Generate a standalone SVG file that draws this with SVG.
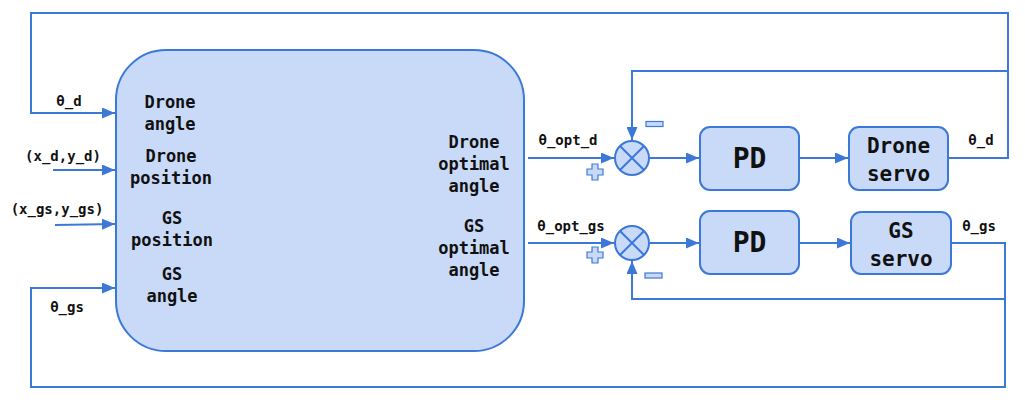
<svg xmlns="http://www.w3.org/2000/svg" width="1025" height="403" viewBox="0 0 1025 403">
<style>
.ln{fill:none;stroke:#3c78d8;stroke-width:2}
.box{fill:#c9daf8;stroke:#3c78d8;stroke-width:2}
.sym{fill:#c9daf8;stroke:#3c78d8;stroke-width:1.2}
text{font-family:"DejaVu Sans Mono","Liberation Mono",monospace;font-weight:bold;fill:#111}
.lbl{font-size:14px}
.in{font-size:17px;text-anchor:middle}
.sv{font-size:21px;text-anchor:middle}
.pd{font-size:28px;text-anchor:middle}
</style>
<defs>
<marker id="ah" markerUnits="userSpaceOnUse" markerWidth="13" markerHeight="11" refX="13" refY="5.5" orient="auto">
<path d="M0,0 L13,5.5 L0,11 z" fill="#3c78d8"/>
</marker>
</defs>
<rect width="1025" height="403" fill="#fff"/>
<g id="connectors">
<path class="ln" d="M948,158 H1008 V13 H31 V113 H115" marker-end="url(#ah)"/>
<path class="ln" d="M1008,71 H632 V140" marker-end="url(#ah)"/>
<path class="ln" d="M951,243 H1005 V387 H31 V288 H115" marker-end="url(#ah)"/>
<path class="ln" d="M1005,299 H632 V261" marker-end="url(#ah)"/>
<path class="ln" d="M53,170 H115" marker-end="url(#ah)"/>
<path class="ln" d="M55,225 L115,224" marker-end="url(#ah)"/>
<path class="ln" d="M528,158 H614" marker-end="url(#ah)"/>
<path class="ln" d="M528,243 H614" marker-end="url(#ah)"/>
<path class="ln" d="M650,158 H699" marker-end="url(#ah)"/>
<path class="ln" d="M650,243 H699" marker-end="url(#ah)"/>
<path class="ln" d="M799,158 H848" marker-end="url(#ah)"/>
<path class="ln" d="M799,243 H850" marker-end="url(#ah)"/>
<text class="lbl" x="69" y="106" text-anchor="middle">θ_d</text>
<text class="lbl" x="63" y="161" text-anchor="middle">(x_d,y_d)</text>
<text class="lbl" x="57" y="214" text-anchor="middle">(x_gs,y_gs)</text>
<text class="lbl" x="67" y="312" text-anchor="middle">θ_gs</text>
<text class="lbl" x="568" y="145" text-anchor="middle">θ_opt_d</text>
<text class="lbl" x="571" y="231" text-anchor="middle">θ_opt_gs</text>
<text class="lbl" x="981" y="145" text-anchor="middle">θ_d</text>
<text class="lbl" x="979" y="231" text-anchor="middle">θ_gs</text>
<path class="sym" d="M592,164 h6 v5 h5 v6 h-5 v5 h-6 v-5 h-5 v-6 h5 z"/>
<path class="sym" d="M592,247 h6 v5 h5 v6 h-5 v5 h-6 v-5 h-5 v-6 h5 z"/>
<rect class="sym" x="646" y="121.5" width="17" height="5"/>
<rect class="sym" x="645" y="273" width="17" height="5"/>
</g>
<g id="main">
<rect class="box" x="116" y="50" width="408" height="301" rx="50" ry="50"/>
<text class="in" x="170" y="108">Drone</text>
<text class="in" x="170" y="130">angle</text>
<text class="in" x="171" y="162">Drone</text>
<text class="in" x="171" y="184">position</text>
<text class="in" x="172" y="224">GS</text>
<text class="in" x="172" y="246">position</text>
<text class="in" x="172" y="280">GS</text>
<text class="in" x="172" y="302">angle</text>
<text class="in" x="474" y="148">Drone</text>
<text class="in" x="474" y="170">optimal</text>
<text class="in" x="474" y="192">angle</text>
<text class="in" x="474" y="232">GS</text>
<text class="in" x="474" y="254">optimal</text>
<text class="in" x="474" y="276">angle</text>
</g>
<g id="sum1">
<circle class="box" cx="632" cy="158" r="17"/>
<path class="ln" d="M620,146 L644,170 M644,146 L620,170"/>
</g>
<g id="sum2">
<circle class="box" cx="632" cy="243" r="17"/>
<path class="ln" d="M620,231 L644,255 M644,231 L620,255"/>
</g>
<g id="pd1">
<rect class="box" x="700" y="127" width="99" height="63" rx="10"/>
<text class="pd" x="749.5" y="168">PD</text>
</g>
<g id="pd2">
<rect class="box" x="700" y="211" width="99" height="63" rx="10"/>
<text class="pd" x="749.5" y="252">PD</text>
</g>
<g id="drone-servo">
<rect class="box" x="849" y="127" width="99" height="63" rx="10"/>
<text class="sv" x="898.5" y="153">Drone</text>
<text class="sv" x="898.5" y="181">servo</text>
</g>
<g id="gs-servo">
<rect class="box" x="851" y="212" width="100" height="62" rx="10"/>
<text class="sv" x="901" y="238">GS</text>
<text class="sv" x="901" y="266">servo</text>
</g>
</svg>
